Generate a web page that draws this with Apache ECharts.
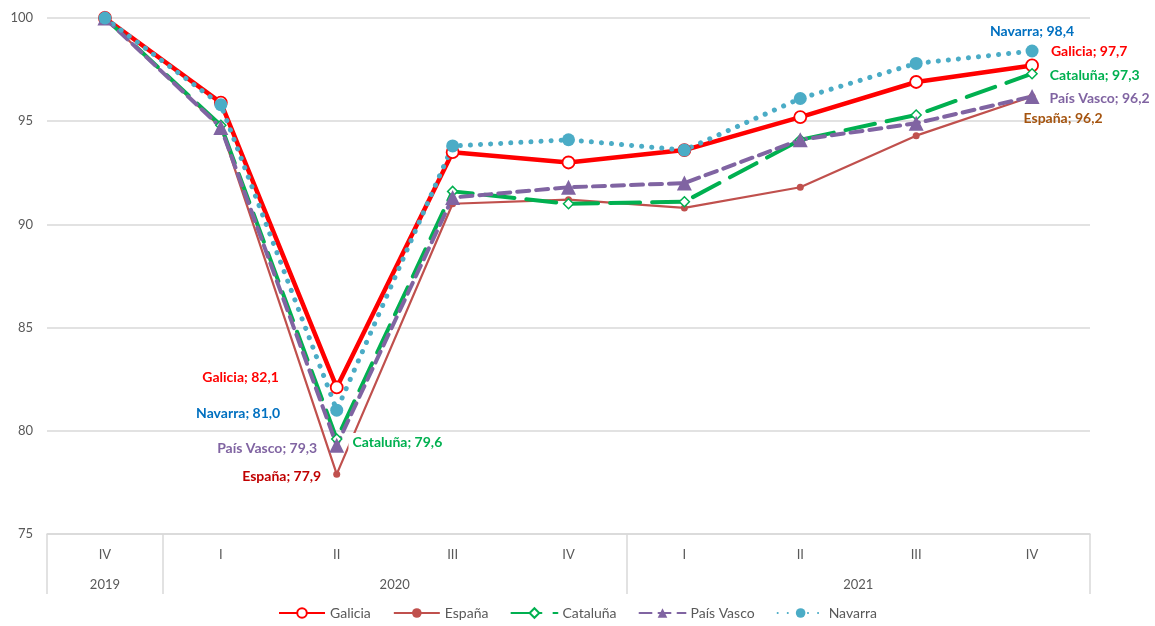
<!DOCTYPE html>
<html>
<head>
<meta charset="utf-8">
<script src="https://cdn.jsdelivr.net/npm/echarts@6/dist/echarts.min.js"></script>
<style>html,body{margin:0;padding:0;background:#fff}#c{width:1155px;height:626px}</style>
</head>
<body>
<div id="c"></div>
<script>
// ---- data ----
const quarters = ['IV','I','II','III','IV','I','II','III','IV'];
const quarterYear = ['2019','2020','2020','2020','2020','2021','2021','2021','2021'];
const galicia   = [100, 95.9, 82.1, 93.5, 93.0, 93.6, 95.2, 96.9, 97.7];
const espana    = [100, 94.7, 77.9, 91.0, 91.2, 90.8, 91.8, 94.3, 96.2];
const cataluna  = [100, 94.8, 79.6, 91.6, 91.0, 91.1, 94.1, 95.3, 97.3];
const paisVasco = [100, 94.7, 79.3, 91.3, 91.8, 92.0, 94.1, 94.9, 96.2];
const navarra   = [100, 95.8, 81.0, 93.8, 94.1, 93.6, 96.1, 97.8, 98.4];
const yTicks = [75, 80, 85, 90, 95, 100];

// year groups derived from quarterYear
const years = [], bounds = [0], centers = [];
quarterYear.forEach((y, i) => {
  if (i > 0 && y !== quarterYear[i - 1]) bounds.push(i);
  if (!years.includes(y)) years.push(y);
});
bounds.push(quarterYear.length);
for (let k = 0; k < years.length; k++) centers.push((bounds[k] + bounds[k + 1]) / 2);

const fmt = v => v.toFixed(1).replace('.', ',');
const FONT = 'Lato';
function lbl(name, vals, cfg) {
  return vals.map((v, i) => {
    const c = cfg[i];
    if (!c) return v;
    return { value: v, label: Object.assign({
      show: true, formatter: name + '; ' + fmt(v), fontFamily: FONT,
      fontWeight: 'bold', fontSize: 14
    }, c) };
  });
}

const chart = echarts.init(document.getElementById('c'), null, {renderer: 'canvas'});
chart.setOption({
  animation: false,
  textStyle: { fontFamily: FONT },
  grid: { left: 47, right: 65, top: 18, bottom: 92, containLabel: false },
  legend: {
    top: 604, left: 'center', itemWidth: 46, itemHeight: 12, itemGap: 22,
    padding: 2,
    textStyle: { color: '#595959', fontSize: 14, fontFamily: FONT },
    data: ['Galicia', 'España', 'Cataluña', 'País Vasco', 'Navarra']
  },
  xAxis: [
    {
      type: 'category', data: quarters, boundaryGap: true,
      axisLine: { show: true, lineStyle: { color: '#D9D9D9', width: 1.5 } },
      axisTick: { show: false },
      axisLabel: { color: '#595959', fontSize: 13, margin: 14, fontFamily: FONT }
    },
    {
      type: 'value', position: 'bottom', min: 0, max: quarters.length,
      axisLine: { show: false },
      splitLine: { show: false },
      axisTick: { show: true, customValues: bounds, length: 60, inside: false,
                  lineStyle: { color: '#D9D9D9', width: 1.5 } },
      axisLabel: { customValues: centers, margin: 44, color: '#595959', fontSize: 13,
                   fontFamily: FONT,
                   formatter: v => years[centers.indexOf(v)] || '' }
    }
  ],
  yAxis: {
    type: 'value', min: 75, max: 100, interval: 5,
    axisLine: { show: false }, axisTick: { show: false },
    axisLabel: { color: '#595959', fontSize: 13, margin: 14, fontFamily: FONT,
                 customValues: yTicks },
    splitLine: { lineStyle: { color: '#D9D9D9', width: 1.5 } }
  },
  series: [
    {
      name: 'Galicia', type: 'line', xAxisIndex: 0,
      symbol: 'circle', symbolSize: 12,
      lineStyle: { color: '#FF0000', width: 4.5 },
      itemStyle: { color: '#FFFFFF', borderColor: '#FF0000', borderWidth: 1.8 },
      data: lbl('Galicia', galicia, {
        2: { position: 'left', distance: 51, offset: [0, -10], color: '#FF0000' },
        8: { position: 'right', distance: 12, offset: [0, -14], color: '#FF0000' }
      })
    },
    {
      name: 'España', type: 'line', xAxisIndex: 0,
      symbol: 'circle', symbolSize: 7,
      lineStyle: { color: '#C0504D', width: 2.2 },
      itemStyle: { color: '#C0504D' },
      data: lbl('España', espana, {
        2: { position: 'left', distance: 12, offset: [0, 2], color: '#C00000' },
        8: { position: 'bottom', distance: 8, offset: [31, 4], color: '#A5540F' }
      })
    },
    {
      name: 'Cataluña', type: 'line', xAxisIndex: 0,
      symbol: 'diamond', symbolSize: 10,
      lineStyle: { color: '#00B050', width: 4, type: [30, 12], cap: 'round' },
      itemStyle: { color: '#FFFFFF', borderColor: '#00B050', borderWidth: 1.5 },
      data: lbl('Cataluña', cataluna, {
        2: { position: 'right', distance: 6, offset: [0, 3], color: '#00B050',
             backgroundColor: '#FFFFFF', padding: [2, 4] },
        8: { position: 'right', distance: 12, offset: [0, 2], color: '#00B050' }
      })
    },
    {
      name: 'País Vasco', type: 'line', xAxisIndex: 0,
      symbol: 'triangle', symbolSize: 15,
      lineStyle: { color: '#8064A2', width: 4, type: [12, 7], cap: 'round' },
      itemStyle: { color: '#8064A2' },
      data: lbl('País Vasco', paisVasco, {
        2: { position: 'left', distance: 12, offset: [0, 3], color: '#8064A2' },
        8: { position: 'right', distance: 10, offset: [0, 2], color: '#8064A2' }
      })
    },
    {
      name: 'Navarra', type: 'line', xAxisIndex: 0,
      symbol: 'circle', symbolSize: 13,
      lineStyle: { color: '#4BACC6', width: 5, type: [0.1, 10], cap: 'round' },
      itemStyle: { color: '#4BACC6' },
      data: lbl('Navarra', navarra, {
        2: { position: 'left', distance: 50, offset: [0, 3], color: '#0070C0' },
        8: { position: 'top', distance: 6, offset: [0, 0], color: '#0070C0' }
      })
    }
  ]
});
</script>
</body>
</html>
